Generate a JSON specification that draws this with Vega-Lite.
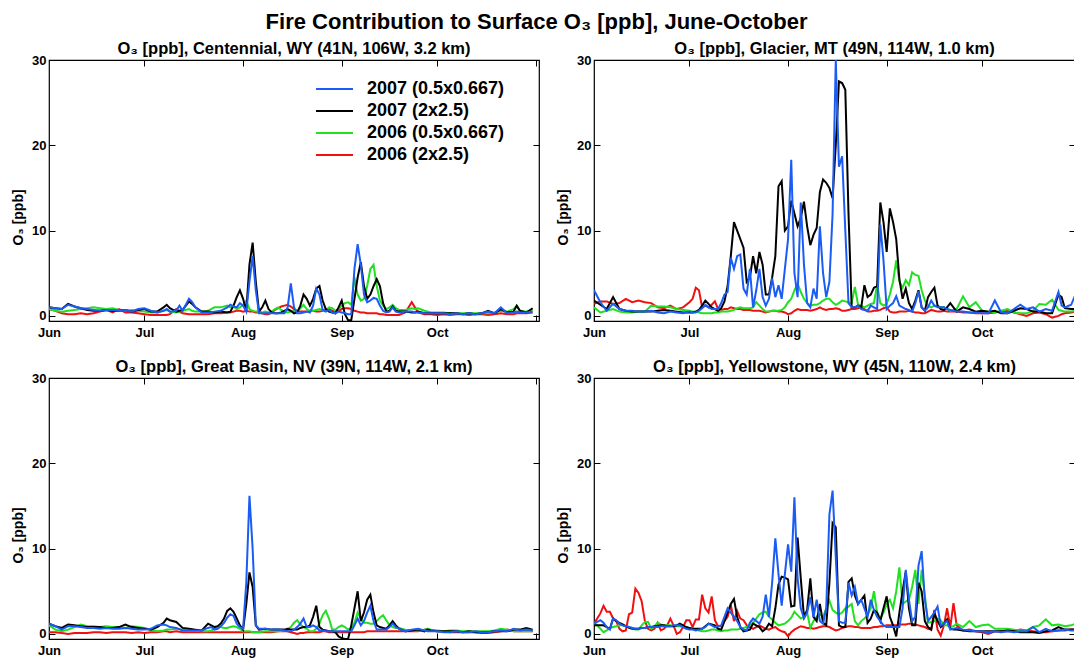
{
  "$schema": "https://vega.github.io/schema/vega-lite/v6.json",
  "background": "white",
  "padding": {"left": 10, "top": 10, "right": 0, "bottom": 0},
  "title": {"text": "Fire Contribution to Surface O₃ [ppb], June-October", "fontSize": 22, "fontWeight": "bold", "font": "Liberation Sans", "color": "black", "anchor": "middle", "offset": 6, "dx": -8},
  "config": {
    "font": "Liberation Sans",
    "view": {"stroke": "black", "strokeWidth": 1.2},
    "axis": {"grid": false, "domain": false, "tickColor": "black", "tickSize": -6, "tickWidth": 1, "labelFontSize": 13, "labelFontWeight": "bold", "labelColor": "black", "titleFontSize": 14, "titleFontWeight": "bold", "titleColor": "black", "labelFlush": false},
    "line": {"strokeWidth": 2, "clip": true}
  },
  "columns": 2,
  "spacing": {"row": 17, "column": 14},
  "resolve": {"legend": {"color": "independent"}},
  "datasets": {
    "cen": [
      {"d":0,"b":1.0,"k":1.0,"g":0.8,"r":0.8},{"d":2,"b":0.9,"k":0.9,"g":0.6,"r":0.6},{"d":4,"b":0.8,"k":0.8,"g":0.5,"r":0.3},{"d":6,"b":1.3,"k":1.4,"g":0.6,"r":0.2},{"d":8,"b":1.1,"k":1.1,"g":0.7,"r":0.2},{"d":10,"b":0.9,"k":0.9,"g":0.8,"r":0.3},{"d":12,"b":0.8,"k":0.7,"g":0.9,"r":0.2},{"d":14,"b":0.7,"k":0.6,"g":1.0,"r":0.3},{"d":16,"b":0.6,"k":0.6,"g":0.9,"r":0.5},{"d":18,"b":0.7,"k":0.7,"g":0.8,"r":0.7},{"d":20,"b":0.7,"k":0.6,"g":0.9,"r":0.4},{"d":22,"b":0.6,"k":0.6,"g":0.7,"r":0.8},{"d":24,"b":0.7,"k":0.7,"g":0.6,"r":0.4},{"d":26,"b":0.5,"k":0.5,"g":0.7,"r":0.4},{"d":28,"b":0.8,"k":0.7,"g":0.6,"r":0.3},{"d":30,"b":0.9,"k":0.8,"g":0.5,"r":0.2},{"d":32,"b":0.6,"k":0.5,"g":0.4,"r":0.1},{"d":34,"b":0.4,"k":0.5,"g":0.4,"r":0.1},{"d":36,"b":0.6,"k":1.0,"g":0.6,"r":0.1},{"d":37,"b":0.8,"k":1.3,"g":0.7,"r":0.1},{"d":38,"b":0.5,"k":0.9,"g":0.5,"r":0.2},{"d":40,"b":0.6,"k":0.5,"g":0.4,"r":0.8},{"d":41,"b":1.2,"k":0.6,"g":0.5,"r":0.5},{"d":42,"b":0.6,"k":0.7,"g":0.6,"r":0.3},{"d":44,"b":2.0,"k":1.7,"g":0.8,"r":0.2},{"d":45,"b":1.6,"k":1.4,"g":0.6,"r":0.2},{"d":46,"b":1.0,"k":1.0,"g":0.5,"r":0.2},{"d":48,"b":0.4,"k":0.5,"g":0.5,"r":0.2},{"d":50,"b":0.4,"k":0.5,"g":0.6,"r":0.2},{"d":52,"b":0.5,"k":0.4,"g":1.0,"r":0.3},{"d":54,"b":0.6,"k":0.5,"g":1.0,"r":0.3},{"d":56,"b":1.0,"k":0.4,"g":1.2,"r":0.4},{"d":57,"b":1.3,"k":0.5,"g":1.0,"r":0.4},{"d":58,"b":1.1,"k":1.2,"g":1.1,"r":0.5},{"d":59,"b":1.0,"k":2.2,"g":0.8,"r":0.6},{"d":60,"b":1.5,"k":3.0,"g":1.0,"r":0.6},{"d":61,"b":1.2,"k":2.0,"g":1.3,"r":0.5},{"d":62,"b":0.5,"k":0.6,"g":1.8,"r":0.6},{"d":63,"b":4.0,"k":6.0,"g":0.8,"r":0.5},{"d":64,"b":7.0,"k":8.6,"g":0.6,"r":0.5},{"d":65,"b":3.0,"k":4.0,"g":0.5,"r":0.4},{"d":66,"b":0.3,"k":0.5,"g":0.5,"r":0.4},{"d":67,"b":0.3,"k":1.0,"g":0.4,"r":0.3},{"d":68,"b":0.3,"k":1.8,"g":0.5,"r":0.2},{"d":69,"b":0.3,"k":0.8,"g":0.4,"r":0.2},{"d":70,"b":0.3,"k":0.4,"g":0.5,"r":0.4},{"d":71,"b":0.3,"k":0.3,"g":0.8,"r":0.7},{"d":72,"b":0.3,"k":0.3,"g":1.0,"r":0.9},{"d":73,"b":0.3,"k":0.4,"g":0.7,"r":1.1},{"d":74,"b":0.3,"k":0.6,"g":0.5,"r":1.2},{"d":75,"b":1.0,"k":0.8,"g":0.4,"r":1.3},{"d":76,"b":3.8,"k":0.6,"g":0.5,"r":1.1},{"d":77,"b":1.0,"k":0.3,"g":0.6,"r":0.8},{"d":78,"b":0.3,"k":0.4,"g":0.5,"r":0.6},{"d":79,"b":0.3,"k":1.2,"g":0.9,"r":0.5},{"d":80,"b":0.4,"k":2.5,"g":1.3,"r":0.5},{"d":81,"b":0.5,"k":2.0,"g":0.8,"r":0.5},{"d":82,"b":0.4,"k":1.2,"g":0.6,"r":0.6},{"d":83,"b":1.2,"k":2.0,"g":0.6,"r":0.6},{"d":84,"b":3.2,"k":3.2,"g":0.7,"r":0.5},{"d":85,"b":2.5,"k":3.5,"g":0.8,"r":0.5},{"d":86,"b":0.7,"k":1.8,"g":0.7,"r":0.6},{"d":87,"b":0.5,"k":0.8,"g":0.6,"r":0.8},{"d":88,"b":0.7,"k":0.5,"g":1.0,"r":0.8},{"d":89,"b":0.4,"k":0.4,"g":0.9,"r":0.6},{"d":90,"b":0.3,"k":0.3,"g":0.6,"r":0.5},{"d":91,"b":0.5,"k":1.0,"g":0.8,"r":0.6},{"d":92,"b":0.4,"k":1.8,"g":1.2,"r":0.8},{"d":93,"b":0.3,"k":0.2,"g":1.5,"r":0.9},{"d":94,"b":0.2,"k":-0.5,"g":1.6,"r":0.9},{"d":95,"b":0.2,"k":-0.5,"g":1.3,"r":0.8},{"d":96,"b":5.5,"k":2.0,"g":4.5,"r":0.6},{"d":97,"b":8.4,"k":4.5,"g":2.5,"r":0.5},{"d":98,"b":6.0,"k":6.3,"g":1.8,"r":0.4},{"d":99,"b":2.5,"k":3.5,"g":2.0,"r":0.4},{"d":100,"b":1.6,"k":2.0,"g":3.5,"r":0.3},{"d":101,"b":1.8,"k":2.5,"g":5.5,"r":0.3},{"d":102,"b":2.1,"k":3.5,"g":6.0,"r":0.3},{"d":103,"b":2.0,"k":4.3,"g":3.5,"r":0.3},{"d":104,"b":1.2,"k":3.5,"g":1.8,"r":0.2},{"d":105,"b":0.6,"k":1.5,"g":1.2,"r":0.2},{"d":106,"b":0.4,"k":0.5,"g":0.8,"r":0.1},{"d":107,"b":0.5,"k":0.6,"g":1.0,"r":0.1},{"d":108,"b":1.0,"k":1.1,"g":1.3,"r":0.1},{"d":109,"b":0.5,"k":0.6,"g":0.9,"r":0.1},{"d":110,"b":0.4,"k":0.5,"g":0.7,"r":0.1},{"d":112,"b":0.5,"k":0.5,"g":0.7,"r":0.4},{"d":114,"b":0.5,"k":0.4,"g":0.9,"r":1.6},{"d":115,"b":0.4,"k":0.4,"g":0.8,"r":1.0},{"d":116,"b":0.4,"k":0.5,"g":0.9,"r":0.4},{"d":118,"b":0.3,"k":0.3,"g":0.6,"r":0.2},{"d":120,"b":0.3,"k":0.3,"g":0.4,"r":0.2},{"d":122,"b":0.3,"k":0.3,"g":0.4,"r":0.1},{"d":124,"b":0.3,"k":0.3,"g":0.4,"r":0.2},{"d":126,"b":0.2,"k":0.3,"g":0.3,"r":0.1},{"d":128,"b":0.3,"k":0.3,"g":0.3,"r":0.2},{"d":130,"b":0.2,"k":0.2,"g":0.3,"r":0.2},{"d":132,"b":0.3,"k":0.3,"g":0.3,"r":0.1},{"d":134,"b":0.2,"k":0.2,"g":0.3,"r":0.2},{"d":136,"b":0.3,"k":0.3,"g":0.3,"r":0.2},{"d":138,"b":0.5,"k":0.6,"g":0.3,"r":0.1},{"d":140,"b":0.3,"k":0.3,"g":0.4,"r":0.2},{"d":142,"b":1.0,"k":0.8,"g":0.6,"r":0.3},{"d":144,"b":0.3,"k":0.4,"g":0.5,"r":0.2},{"d":146,"b":0.4,"k":0.5,"g":0.8,"r":0.2},{"d":147,"b":0.5,"k":1.2,"g":1.2,"r":0.3},{"d":148,"b":0.4,"k":0.6,"g":0.6,"r":0.3},{"d":150,"b":0.4,"k":0.4,"g":0.5,"r":0.3},{"d":152,"b":0.5,"k":0.9,"g":0.7,"r":0.4}
    ],
    "gla": [
      {"d":0,"b":3.0,"k":1.8,"g":1.0,"r":1.4},{"d":2,"b":1.6,"k":1.3,"g":0.4,"r":1.7},{"d":4,"b":0.6,"k":0.8,"g":0.6,"r":1.7},{"d":6,"b":1.4,"k":2.2,"g":0.8,"r":1.4},{"d":8,"b":0.8,"k":0.8,"g":0.5,"r":1.5},{"d":10,"b":0.6,"k":0.6,"g":0.4,"r":2.0},{"d":12,"b":0.6,"k":0.5,"g":0.4,"r":1.6},{"d":14,"b":0.5,"k":0.5,"g":0.5,"r":1.8},{"d":16,"b":0.5,"k":0.5,"g":0.5,"r":1.6},{"d":18,"b":0.6,"k":0.5,"g":1.2,"r":1.5},{"d":20,"b":0.4,"k":0.6,"g":1.1,"r":1.0},{"d":22,"b":0.3,"k":0.7,"g":1.1,"r":0.9},{"d":24,"b":0.5,"k":0.6,"g":1.0,"r":1.2},{"d":26,"b":0.4,"k":0.5,"g":0.8,"r":0.8},{"d":28,"b":0.3,"k":0.4,"g":0.7,"r":1.0},{"d":30,"b":0.5,"k":0.4,"g":0.6,"r":1.6},{"d":31,"b":0.4,"k":0.4,"g":0.5,"r":2.0},{"d":32,"b":0.4,"k":0.5,"g":0.5,"r":3.3},{"d":33,"b":0.6,"k":0.7,"g":0.4,"r":3.0},{"d":34,"b":0.9,"k":1.2,"g":0.3,"r":1.0},{"d":35,"b":1.3,"k":1.8,"g":0.3,"r":1.2},{"d":36,"b":1.0,"k":1.4,"g":0.3,"r":1.0},{"d":37,"b":0.8,"k":1.0,"g":0.3,"r":1.3},{"d":38,"b":0.8,"k":0.8,"g":0.4,"r":1.7},{"d":39,"b":0.8,"k":0.6,"g":0.4,"r":0.8},{"d":40,"b":1.5,"k":0.9,"g":0.5,"r":0.7},{"d":41,"b":2.5,"k":1.7,"g":0.5,"r":0.8},{"d":42,"b":2.8,"k":3.5,"g":0.5,"r":0.8},{"d":43,"b":6.8,"k":7.0,"g":0.6,"r":1.0},{"d":44,"b":5.5,"k":11.0,"g":0.7,"r":0.9},{"d":45,"b":7.0,"k":10.0,"g":0.9,"r":0.8},{"d":46,"b":7.2,"k":9.0,"g":1.0,"r":0.8},{"d":47,"b":3.2,"k":8.0,"g":0.9,"r":0.7},{"d":48,"b":2.5,"k":4.0,"g":0.9,"r":0.7},{"d":49,"b":5.5,"k":4.5,"g":0.9,"r":0.7},{"d":50,"b":1.0,"k":7.0,"g":1.0,"r":0.6},{"d":51,"b":3.0,"k":5.0,"g":1.6,"r":0.6},{"d":52,"b":5.5,"k":7.5,"g":1.2,"r":0.6},{"d":53,"b":2.2,"k":6.0,"g":0.8,"r":0.5},{"d":54,"b":1.2,"k":2.5,"g":0.5,"r":0.4},{"d":55,"b":2.0,"k":2.5,"g":0.5,"r":0.5},{"d":56,"b":4.4,"k":4.5,"g":0.6,"r":0.6},{"d":57,"b":2.2,"k":7.0,"g":0.6,"r":0.6},{"d":58,"b":3.6,"k":15.2,"g":0.6,"r":0.5},{"d":59,"b":2.0,"k":15.8,"g":0.7,"r":0.5},{"d":60,"b":5.5,"k":10.0,"g":1.0,"r":0.4},{"d":61,"b":9.0,"k":10.5,"g":1.6,"r":0.2},{"d":62,"b":18.3,"k":13.5,"g":2.0,"r":0.3},{"d":63,"b":5.0,"k":12.0,"g":3.0,"r":0.6},{"d":64,"b":2.2,"k":10.5,"g":3.8,"r":0.8},{"d":65,"b":13.3,"k":11.5,"g":2.8,"r":0.7},{"d":66,"b":6.0,"k":13.4,"g":2.0,"r":0.7},{"d":67,"b":1.5,"k":10.5,"g":1.5,"r":0.7},{"d":68,"b":1.0,"k":8.3,"g":1.2,"r":0.6},{"d":69,"b":3.2,"k":9.5,"g":1.3,"r":0.7},{"d":70,"b":2.0,"k":10.3,"g":1.3,"r":0.8},{"d":71,"b":10.5,"k":14.5,"g":1.5,"r":1.0},{"d":72,"b":5.0,"k":16.0,"g":1.8,"r":0.8},{"d":73,"b":2.2,"k":15.6,"g":2.0,"r":0.7},{"d":74,"b":4.0,"k":15.0,"g":2.0,"r":0.8},{"d":75,"b":12.0,"k":13.8,"g":1.6,"r":0.8},{"d":76,"b":30.0,"k":20.0,"g":1.3,"r":0.9},{"d":77,"b":17.5,"k":27.5,"g":1.5,"r":0.8},{"d":78,"b":18.7,"k":27.3,"g":1.8,"r":0.6},{"d":79,"b":10.0,"k":26.5,"g":1.7,"r":0.6},{"d":80,"b":1.5,"k":12.0,"g":1.6,"r":0.7},{"d":81,"b":1.0,"k":1.0,"g":1.5,"r":0.8},{"d":82,"b":1.0,"k":1.0,"g":3.4,"r":0.8},{"d":83,"b":1.2,"k":1.2,"g":1.3,"r":0.9},{"d":84,"b":0.8,"k":1.0,"g":1.2,"r":1.0},{"d":85,"b":0.7,"k":3.6,"g":1.0,"r":0.8},{"d":86,"b":0.6,"k":2.2,"g":1.2,"r":0.5},{"d":87,"b":1.2,"k":2.5,"g":1.4,"r":0.5},{"d":88,"b":1.0,"k":3.3,"g":1.5,"r":0.6},{"d":89,"b":0.8,"k":3.5,"g":3.7,"r":0.6},{"d":90,"b":10.7,"k":13.3,"g":1.5,"r":0.7},{"d":91,"b":6.5,"k":11.0,"g":1.2,"r":0.9},{"d":92,"b":0.8,"k":7.5,"g":1.4,"r":1.0},{"d":93,"b":1.2,"k":12.6,"g":2.5,"r":0.5},{"d":94,"b":1.5,"k":11.0,"g":4.0,"r":0.4},{"d":95,"b":2.3,"k":9.0,"g":6.5,"r":0.4},{"d":96,"b":1.2,"k":4.3,"g":4.0,"r":0.5},{"d":97,"b":1.0,"k":2.0,"g":3.3,"r":0.5},{"d":98,"b":0.8,"k":3.2,"g":4.2,"r":0.5},{"d":99,"b":0.7,"k":1.5,"g":3.6,"r":0.6},{"d":100,"b":0.5,"k":0.8,"g":5.1,"r":0.5},{"d":101,"b":1.5,"k":1.8,"g":4.8,"r":0.4},{"d":102,"b":2.9,"k":3.0,"g":4.7,"r":0.4},{"d":103,"b":1.0,"k":1.0,"g":3.0,"r":0.3},{"d":104,"b":0.6,"k":0.6,"g":1.8,"r":0.3},{"d":105,"b":1.0,"k":2.2,"g":1.2,"r":0.5},{"d":106,"b":1.8,"k":2.8,"g":1.0,"r":0.7},{"d":107,"b":1.2,"k":3.3,"g":1.2,"r":0.6},{"d":108,"b":1.0,"k":1.2,"g":1.2,"r":0.5},{"d":109,"b":1.0,"k":0.8,"g":1.0,"r":0.5},{"d":110,"b":1.0,"k":0.7,"g":1.0,"r":0.6},{"d":111,"b":0.8,"k":1.0,"g":0.8,"r":0.5},{"d":112,"b":0.7,"k":1.5,"g":0.6,"r":0.5},{"d":114,"b":0.5,"k":0.5,"g":0.8,"r":0.5},{"d":116,"b":0.5,"k":1.0,"g":2.3,"r":0.4},{"d":118,"b":0.4,"k":0.8,"g":1.0,"r":0.4},{"d":120,"b":0.4,"k":0.5,"g":1.6,"r":0.3},{"d":122,"b":0.3,"k":0.6,"g":0.6,"r":0.3},{"d":124,"b":0.3,"k":0.5,"g":0.5,"r":0.3},{"d":126,"b":1.8,"k":0.6,"g":0.4,"r":0.4},{"d":128,"b":0.4,"k":0.3,"g":0.6,"r":0.5},{"d":130,"b":0.3,"k":0.3,"g":0.8,"r":0.6},{"d":132,"b":0.8,"k":0.6,"g":0.4,"r":0.4},{"d":134,"b":1.3,"k":0.9,"g":0.3,"r":0.2},{"d":136,"b":0.8,"k":0.8,"g":0.3,"r":0.0},{"d":138,"b":1.0,"k":0.5,"g":0.6,"r":0.3},{"d":140,"b":0.5,"k":0.5,"g":1.4,"r":0.4},{"d":142,"b":0.8,"k":0.3,"g":1.3,"r":0.2},{"d":144,"b":0.6,"k":0.3,"g":1.9,"r":-0.2},{"d":146,"b":2.8,"k":2.5,"g":0.7,"r":0.0},{"d":147,"b":1.2,"k":2.2,"g":0.6,"r":0.2},{"d":148,"b":1.0,"k":0.9,"g":0.5,"r":0.3},{"d":150,"b":1.3,"k":0.8,"g":0.5,"r":0.4},{"d":151,"b":2.2,"k":0.8,"g":0.6,"r":0.5},{"d":152,"b":2.0,"k":1.0,"g":0.6,"r":0.5}
    ],
    "gb": [
      {"d":0,"b":1.2,"k":1.2,"g":1.0,"r":0.2},{"d":2,"b":0.9,"k":0.9,"g":0.5,"r":0.2},{"d":4,"b":0.5,"k":0.7,"g":0.3,"r":0.1},{"d":6,"b":0.9,"k":1.1,"g":0.5,"r":0.0},{"d":8,"b":0.9,"k":1.0,"g":0.8,"r":0.1},{"d":10,"b":0.8,"k":0.9,"g":1.1,"r":0.1},{"d":12,"b":0.7,"k":0.8,"g":0.9,"r":0.1},{"d":14,"b":0.7,"k":0.8,"g":0.9,"r":0.2},{"d":16,"b":0.6,"k":0.8,"g":0.8,"r":0.2},{"d":18,"b":0.7,"k":0.7,"g":0.9,"r":0.1},{"d":20,"b":0.6,"k":0.7,"g":0.8,"r":0.2},{"d":22,"b":0.6,"k":0.8,"g":0.8,"r":0.2},{"d":24,"b":0.7,"k":1.1,"g":0.7,"r":0.2},{"d":26,"b":0.6,"k":0.8,"g":0.9,"r":0.1},{"d":28,"b":0.5,"k":0.7,"g":0.8,"r":0.2},{"d":30,"b":0.5,"k":0.6,"g":0.7,"r":0.1},{"d":32,"b":0.6,"k":0.5,"g":0.5,"r":0.2},{"d":34,"b":1.0,"k":0.8,"g":0.3,"r":0.2},{"d":36,"b":1.1,"k":1.3,"g":0.4,"r":0.3},{"d":37,"b":1.0,"k":1.8,"g":0.5,"r":0.3},{"d":38,"b":0.8,"k":1.6,"g":0.5,"r":0.2},{"d":40,"b":0.7,"k":1.4,"g":0.6,"r":0.3},{"d":42,"b":0.4,"k":0.7,"g":0.5,"r":0.2},{"d":44,"b":0.4,"k":0.6,"g":0.4,"r":0.2},{"d":46,"b":0.4,"k":0.5,"g":0.4,"r":0.2},{"d":48,"b":0.4,"k":0.4,"g":0.3,"r":0.2},{"d":50,"b":0.7,"k":1.2,"g":0.3,"r":0.2},{"d":51,"b":0.8,"k":1.0,"g":0.4,"r":0.2},{"d":52,"b":0.5,"k":0.8,"g":0.6,"r":0.2},{"d":53,"b":0.6,"k":0.9,"g":0.8,"r":0.2},{"d":54,"b":0.9,"k":1.2,"g":0.8,"r":0.2},{"d":55,"b":1.3,"k":1.8,"g":0.7,"r":0.2},{"d":56,"b":1.9,"k":2.7,"g":0.7,"r":0.2},{"d":57,"b":2.3,"k":3.0,"g":0.8,"r":0.2},{"d":58,"b":2.1,"k":2.6,"g":0.9,"r":0.2},{"d":59,"b":1.2,"k":1.8,"g":0.8,"r":0.2},{"d":60,"b":0.8,"k":1.0,"g":0.6,"r":0.2},{"d":61,"b":0.6,"k":0.5,"g":0.3,"r":0.2},{"d":62,"b":6.0,"k":3.5,"g":0.3,"r":0.2},{"d":63,"b":16.2,"k":7.2,"g":0.3,"r":0.2},{"d":64,"b":10.0,"k":5.5,"g":0.2,"r":0.2},{"d":65,"b":1.0,"k":1.0,"g":0.2,"r":0.2},{"d":66,"b":0.6,"k":0.5,"g":0.2,"r":0.2},{"d":68,"b":0.6,"k":0.6,"g":0.3,"r":0.2},{"d":70,"b":0.5,"k":0.5,"g":0.3,"r":0.2},{"d":72,"b":0.5,"k":0.5,"g":0.3,"r":0.3},{"d":74,"b":0.4,"k":0.5,"g":0.4,"r":0.3},{"d":75,"b":0.3,"k":0.6,"g":0.6,"r":0.3},{"d":76,"b":0.3,"k":0.5,"g":0.8,"r":0.2},{"d":77,"b":0.5,"k":0.5,"g":1.3,"r":0.1},{"d":78,"b":0.8,"k":0.5,"g":1.6,"r":0.0},{"d":79,"b":1.2,"k":0.7,"g":1.1,"r":0.1},{"d":80,"b":1.8,"k":0.8,"g":0.8,"r":0.1},{"d":81,"b":0.8,"k":0.8,"g":0.6,"r":0.2},{"d":82,"b":0.8,"k":1.0,"g":0.3,"r":0.2},{"d":83,"b":1.0,"k":2.0,"g":0.3,"r":0.2},{"d":84,"b":0.8,"k":3.3,"g":0.6,"r":0.2},{"d":85,"b":0.4,"k":0.8,"g":1.2,"r":0.2},{"d":86,"b":0.4,"k":0.5,"g":2.2,"r":0.3},{"d":87,"b":0.3,"k":0.4,"g":2.7,"r":0.3},{"d":88,"b":0.3,"k":0.3,"g":1.8,"r":0.2},{"d":89,"b":0.3,"k":0.3,"g":0.5,"r":0.2},{"d":90,"b":0.3,"k":0.2,"g":0.5,"r":0.2},{"d":91,"b":0.3,"k":-0.3,"g":0.8,"r":0.2},{"d":92,"b":0.3,"k":-0.5,"g":1.0,"r":0.2},{"d":93,"b":0.3,"k":-0.6,"g":0.8,"r":0.2},{"d":94,"b":0.3,"k":-0.6,"g":0.5,"r":0.2},{"d":95,"b":0.3,"k":1.0,"g":0.7,"r":0.2},{"d":96,"b":1.0,"k":3.0,"g":1.3,"r":0.2},{"d":97,"b":1.8,"k":5.0,"g":2.5,"r":0.2},{"d":98,"b":1.0,"k":1.5,"g":1.8,"r":0.2},{"d":99,"b":1.5,"k":2.5,"g":1.3,"r":0.2},{"d":100,"b":2.5,"k":4.0,"g":1.3,"r":0.3},{"d":101,"b":3.3,"k":4.6,"g":1.2,"r":0.3},{"d":102,"b":1.5,"k":2.5,"g":1.2,"r":0.3},{"d":103,"b":0.5,"k":1.0,"g":1.5,"r":0.3},{"d":104,"b":0.5,"k":0.8,"g":1.9,"r":0.3},{"d":105,"b":0.5,"k":0.7,"g":2.2,"r":0.3},{"d":106,"b":0.5,"k":0.6,"g":1.6,"r":0.3},{"d":107,"b":0.8,"k":1.0,"g":1.0,"r":0.3},{"d":108,"b":1.2,"k":1.5,"g":0.8,"r":0.3},{"d":109,"b":0.8,"k":1.0,"g":0.7,"r":0.3},{"d":110,"b":0.6,"k":0.6,"g":0.7,"r":0.3},{"d":112,"b":0.3,"k":0.3,"g":0.5,"r":0.3},{"d":114,"b":0.5,"k":0.4,"g":0.4,"r":0.3},{"d":116,"b":0.6,"k":0.5,"g":0.4,"r":0.3},{"d":118,"b":0.4,"k":0.3,"g":0.5,"r":0.5},{"d":119,"b":0.3,"k":0.5,"g":0.6,"r":0.6},{"d":120,"b":0.3,"k":0.4,"g":0.5,"r":0.4},{"d":122,"b":0.3,"k":0.3,"g":0.4,"r":0.3},{"d":124,"b":0.2,"k":0.3,"g":0.3,"r":0.3},{"d":126,"b":0.2,"k":0.3,"g":0.4,"r":0.2},{"d":128,"b":0.3,"k":0.3,"g":0.4,"r":0.2},{"d":130,"b":0.2,"k":0.2,"g":0.3,"r":0.2},{"d":132,"b":0.2,"k":0.3,"g":0.3,"r":0.2},{"d":134,"b":0.3,"k":0.2,"g":0.3,"r":0.2},{"d":136,"b":0.2,"k":0.2,"g":0.3,"r":0.1},{"d":138,"b":0.2,"k":0.2,"g":0.3,"r":0.1},{"d":140,"b":0.3,"k":0.3,"g":0.4,"r":0.2},{"d":142,"b":0.4,"k":0.3,"g":0.6,"r":0.3},{"d":144,"b":0.3,"k":0.3,"g":0.5,"r":0.5},{"d":146,"b":0.6,"k":0.5,"g":0.3,"r":0.3},{"d":148,"b":0.4,"k":0.5,"g":0.3,"r":0.3},{"d":150,"b":0.5,"k":0.7,"g":0.3,"r":0.3},{"d":152,"b":0.4,"k":0.5,"g":0.3,"r":0.3}
    ],
    "yel": [
      {"d":0,"b":1.2,"k":1.0,"g":1.2,"r":1.2},{"d":1,"b":1.4,"k":1.0,"g":1.0,"r":1.8},{"d":2,"b":1.6,"k":1.0,"g":0.6,"r":2.4},{"d":3,"b":1.3,"k":1.0,"g":0.2,"r":3.3},{"d":4,"b":0.8,"k":0.8,"g":0.4,"r":2.6},{"d":5,"b":0.5,"k":0.6,"g":0.7,"r":2.6},{"d":6,"b":1.8,"k":1.8,"g":0.8,"r":1.8},{"d":7,"b":1.6,"k":1.5,"g":0.9,"r":1.5},{"d":8,"b":1.2,"k":1.3,"g":1.0,"r":0.6},{"d":9,"b":1.0,"k":1.1,"g":1.0,"r":0.3},{"d":10,"b":0.9,"k":0.9,"g":0.9,"r":0.4},{"d":11,"b":0.8,"k":0.7,"g":0.8,"r":2.3},{"d":12,"b":0.7,"k":0.6,"g":0.7,"r":2.5},{"d":13,"b":0.6,"k":0.6,"g":0.5,"r":5.3},{"d":14,"b":0.6,"k":0.6,"g":0.5,"r":4.8},{"d":15,"b":0.7,"k":0.7,"g":1.0,"r":3.8},{"d":16,"b":0.7,"k":0.7,"g":1.4,"r":1.5},{"d":17,"b":0.8,"k":0.8,"g":1.4,"r":0.6},{"d":18,"b":0.8,"k":0.8,"g":0.6,"r":0.4},{"d":19,"b":0.8,"k":0.9,"g":0.9,"r":0.6},{"d":20,"b":0.8,"k":0.9,"g":1.3,"r":1.3},{"d":21,"b":0.9,"k":1.0,"g":1.1,"r":0.4},{"d":22,"b":0.9,"k":1.0,"g":1.0,"r":0.6},{"d":23,"b":0.9,"k":0.9,"g":1.0,"r":1.0},{"d":24,"b":0.9,"k":0.9,"g":1.0,"r":1.8},{"d":25,"b":1.0,"k":0.9,"g":0.9,"r":1.0},{"d":26,"b":1.0,"k":1.0,"g":0.9,"r":0.0},{"d":27,"b":1.0,"k":1.2,"g":0.9,"r":0.2},{"d":28,"b":0.8,"k":1.0,"g":0.8,"r":0.8},{"d":29,"b":0.6,"k":0.8,"g":0.7,"r":1.6},{"d":30,"b":0.5,"k":0.7,"g":0.6,"r":1.6},{"d":31,"b":0.5,"k":0.6,"g":0.6,"r":0.8},{"d":32,"b":0.4,"k":0.6,"g":0.5,"r":1.7},{"d":33,"b":0.5,"k":0.6,"g":0.4,"r":1.7},{"d":34,"b":0.6,"k":0.6,"g":0.3,"r":4.6},{"d":35,"b":0.8,"k":0.9,"g":0.3,"r":3.0},{"d":36,"b":1.2,"k":1.2,"g":0.4,"r":2.5},{"d":37,"b":1.0,"k":1.1,"g":0.5,"r":4.4},{"d":38,"b":0.8,"k":1.0,"g":0.5,"r":1.6},{"d":39,"b":0.9,"k":0.6,"g":0.4,"r":0.9},{"d":40,"b":1.0,"k":0.5,"g":0.3,"r":0.9},{"d":41,"b":2.0,"k":1.5,"g":0.4,"r":1.5},{"d":42,"b":3.0,"k":2.5,"g":0.4,"r":2.0},{"d":43,"b":2.5,"k":3.5,"g":0.5,"r":3.4},{"d":44,"b":2.0,"k":4.1,"g":0.5,"r":1.5},{"d":45,"b":1.5,"k":2.0,"g":0.5,"r":2.7},{"d":46,"b":0.8,"k":0.8,"g":0.6,"r":1.8},{"d":47,"b":0.5,"k":0.3,"g":0.7,"r":1.6},{"d":48,"b":0.4,"k":0.4,"g":0.8,"r":1.0},{"d":49,"b":1.3,"k":0.5,"g":1.0,"r":0.8},{"d":50,"b":1.8,"k":1.2,"g":1.3,"r":0.6},{"d":51,"b":1.5,"k":1.0,"g":1.8,"r":0.8},{"d":52,"b":1.2,"k":0.8,"g":2.3,"r":1.0},{"d":53,"b":2.0,"k":0.3,"g":2.5,"r":0.8},{"d":54,"b":4.6,"k":0.6,"g":2.6,"r":0.6},{"d":55,"b":2.0,"k":1.2,"g":2.0,"r":0.5},{"d":56,"b":6.0,"k":0.9,"g":1.7,"r":0.7},{"d":57,"b":11.2,"k":3.0,"g":1.3,"r":0.8},{"d":58,"b":7.0,"k":5.8,"g":1.0,"r":0.5},{"d":59,"b":3.3,"k":6.7,"g":1.1,"r":0.3},{"d":60,"b":7.0,"k":6.6,"g":1.2,"r":0.2},{"d":61,"b":10.5,"k":6.4,"g":1.5,"r":-0.3},{"d":62,"b":7.3,"k":3.2,"g":1.9,"r":0.2},{"d":63,"b":16.0,"k":3.3,"g":2.6,"r":0.5},{"d":64,"b":6.5,"k":11.3,"g":2.2,"r":0.7},{"d":65,"b":3.0,"k":6.5,"g":1.8,"r":0.9},{"d":66,"b":1.8,"k":2.0,"g":2.0,"r":0.8},{"d":67,"b":2.5,"k":2.8,"g":2.5,"r":0.7},{"d":68,"b":4.3,"k":6.5,"g":0.7,"r":0.7},{"d":69,"b":2.0,"k":2.0,"g":1.5,"r":0.6},{"d":70,"b":4.0,"k":1.5,"g":2.0,"r":0.7},{"d":71,"b":1.5,"k":3.5,"g":2.3,"r":0.8},{"d":72,"b":1.2,"k":1.3,"g":2.0,"r":0.9},{"d":73,"b":3.0,"k":1.0,"g":3.0,"r":0.9},{"d":74,"b":14.0,"k":6.0,"g":3.9,"r":0.8},{"d":75,"b":16.8,"k":13.0,"g":2.8,"r":0.6},{"d":76,"b":9.0,"k":12.5,"g":2.5,"r":0.4},{"d":77,"b":1.5,"k":1.0,"g":2.3,"r":0.5},{"d":78,"b":1.3,"k":0.8,"g":2.5,"r":0.7},{"d":79,"b":1.3,"k":0.8,"g":3.0,"r":0.8},{"d":80,"b":6.0,"k":6.1,"g":3.2,"r":0.9},{"d":81,"b":4.5,"k":6.5,"g":3.5,"r":0.9},{"d":82,"b":5.5,"k":4.5,"g":1.5,"r":0.8},{"d":83,"b":3.5,"k":3.5,"g":1.0,"r":0.8},{"d":84,"b":4.0,"k":4.0,"g":1.5,"r":0.7},{"d":85,"b":3.0,"k":4.5,"g":1.8,"r":0.7},{"d":86,"b":2.0,"k":1.3,"g":2.2,"r":0.7},{"d":87,"b":4.0,"k":1.8,"g":3.0,"r":0.7},{"d":88,"b":2.8,"k":2.8,"g":5.0,"r":0.8},{"d":89,"b":2.0,"k":2.5,"g":2.5,"r":0.8},{"d":90,"b":1.5,"k":1.5,"g":1.8,"r":0.9},{"d":91,"b":1.0,"k":3.0,"g":2.5,"r":0.9},{"d":92,"b":0.8,"k":4.4,"g":3.5,"r":1.0},{"d":93,"b":0.8,"k":2.0,"g":4.0,"r":1.0},{"d":94,"b":0.8,"k":1.0,"g":3.0,"r":1.0},{"d":95,"b":0.8,"k":-0.3,"g":5.0,"r":1.0},{"d":96,"b":0.8,"k":2.5,"g":7.8,"r":1.1},{"d":97,"b":3.0,"k":5.0,"g":3.5,"r":1.1},{"d":98,"b":7.5,"k":7.3,"g":3.8,"r":1.1},{"d":99,"b":4.0,"k":3.0,"g":4.0,"r":1.2},{"d":100,"b":1.5,"k":1.0,"g":5.5,"r":1.2},{"d":101,"b":2.0,"k":1.0,"g":7.5,"r":1.1},{"d":102,"b":8.0,"k":6.0,"g":3.5,"r":1.0},{"d":103,"b":9.7,"k":5.0,"g":7.5,"r":0.9},{"d":104,"b":4.0,"k":1.5,"g":4.5,"r":0.8},{"d":105,"b":1.5,"k":0.8,"g":1.3,"r":0.6},{"d":106,"b":2.0,"k":0.5,"g":1.4,"r":0.5},{"d":107,"b":2.5,"k":2.4,"g":1.5,"r":2.8},{"d":108,"b":3.2,"k":1.5,"g":1.8,"r":0.5},{"d":109,"b":1.0,"k":0.8,"g":1.6,"r":-0.2},{"d":110,"b":1.2,"k":1.2,"g":1.0,"r":1.0},{"d":111,"b":1.5,"k":1.7,"g":1.0,"r":3.0},{"d":112,"b":0.5,"k":0.6,"g":0.8,"r":0.8},{"d":113,"b":0.6,"k":0.5,"g":0.9,"r":3.6},{"d":114,"b":0.7,"k":0.5,"g":1.2,"r":1.0},{"d":116,"b":0.5,"k":0.4,"g":0.8,"r":0.4},{"d":118,"b":0.4,"k":0.3,"g":1.5,"r":0.5},{"d":120,"b":0.3,"k":0.3,"g":0.8,"r":0.3},{"d":122,"b":0.3,"k":0.3,"g":1.0,"r":0.2},{"d":124,"b":0.2,"k":0.3,"g":1.1,"r":0.0},{"d":126,"b":0.3,"k":0.3,"g":0.6,"r":0.3},{"d":128,"b":0.2,"k":0.3,"g":0.6,"r":0.3},{"d":130,"b":0.3,"k":0.4,"g":0.6,"r":0.3},{"d":132,"b":0.2,"k":0.3,"g":0.5,"r":0.3},{"d":134,"b":0.3,"k":0.2,"g":0.4,"r":0.5},{"d":136,"b":0.3,"k":0.2,"g":0.4,"r":0.4},{"d":138,"b":0.8,"k":0.2,"g":0.8,"r":0.3},{"d":140,"b":0.2,"k":0.1,"g":1.0,"r":0.2},{"d":142,"b":0.6,"k":0.3,"g":1.7,"r":0.2},{"d":144,"b":0.3,"k":0.4,"g":1.0,"r":0.3},{"d":146,"b":0.4,"k":0.8,"g":1.1,"r":0.4},{"d":148,"b":0.5,"k":0.5,"g":0.9,"r":0.4},{"d":150,"b":0.4,"k":0.5,"g":1.0,"r":0.5},{"d":152,"b":0.4,"k":0.5,"g":1.3,"r":0.5}
    ]
  },
  "concat": [
    {
      "title": {"text": "O₃ [ppb], Centennial, WY (41N, 106W, 3.2 km)", "fontSize": 16.5, "fontWeight": "bold", "color": "black", "anchor": "middle", "offset": -3},
      "width": 490, "height": 261,
      "data": {"name": "cen"},
      "transform": [{"fold": ["r", "g", "k", "b"], "as": ["s", "v"]}],
      "layer": [
        {
          "mark": {"type": "line", "strokeWidth": 2, "clip": true},
          "encoding": {
            "x": {"field": "d", "type": "quantitative", "scale": {"domain": [0, 154], "nice": false, "zero": false}, "axis": {"orient": "bottom", "title": null, "values": [0, 30, 61, 92, 122, 153], "labelPadding": 11, "labelExpr": "datum.value == 0 ? 'Jun' : datum.value == 30 ? 'Jul' : datum.value == 61 ? 'Aug' : datum.value == 92 ? 'Sep' : datum.value == 122 ? 'Oct' : ''"}},
            "y": {"field": "v", "type": "quantitative", "scale": {"domain": [-0.6, 30], "nice": false, "zero": false}, "axis": {"orient": "left", "title": "O₃ [ppb]", "values": [0, 10, 20, 30], "labelPadding": 9, "titlePadding": 6, "titleY": 157}},
            "color": {"field": "s", "type": "nominal", "scale": {"domain": ["b", "k", "g", "r"], "range": ["#1a5cf5", "#000000", "#20e020", "#f01010"]},
              "legend": {"orient": "none", "legendX": 266, "legendY": 19, "title": null, "symbolType": "stroke", "symbolSize": 1369, "symbolStrokeWidth": 2, "labelFontSize": 18, "labelFontWeight": "bold", "labelOffset": 13, "clipHeight": 20, "rowPadding": 2, "padding": 0,
                "labelExpr": "datum.value == 'b' ? '2007 (0.5x0.667)' : datum.value == 'k' ? '2007 (2x2.5)' : datum.value == 'g' ? '2006 (0.5x0.667)' : '2006 (2x2.5)'",
                "encode": {"labels": {"update": {"fill": {"signal": "datum.value == 'b' ? '#1a5cf5' : datum.value == 'g' ? '#20e020' : datum.value == 'r' ? '#f01010' : '#000000'"}}}}}}
          }
        },
        {
          "mark": {"type": "line", "opacity": 0},
          "encoding": {
            "x": {"field": "d", "type": "quantitative", "axis": {"orient": "top", "title": null, "labels": false, "values": [30, 61, 92, 122, 153]}},
            "y": {"field": "v", "type": "quantitative", "axis": {"orient": "right", "title": null, "labels": false, "values": [0, 10, 20, 30]}}
          }
        }
      ],
      "resolve": {"axis": {"x": "independent", "y": "independent"}}
    },
    {
      "title": {"text": "O₃ [ppb], Glacier, MT (49N, 114W, 1.0 km)", "fontSize": 16.5, "fontWeight": "bold", "color": "black", "anchor": "middle", "offset": -3},
      "width": 481, "height": 261,
      "data": {"name": "gla"},
      "transform": [{"fold": ["r", "g", "k", "b"], "as": ["s", "v"]}],
      "layer": [
        {
          "mark": {"type": "line", "strokeWidth": 2, "clip": true},
          "encoding": {
            "x": {"field": "d", "type": "quantitative", "scale": {"domain": [0, 151.2], "nice": false, "zero": false}, "axis": {"orient": "bottom", "title": null, "values": [0, 30, 61, 92, 122], "labelPadding": 11, "labelExpr": "datum.value == 0 ? 'Jun' : datum.value == 30 ? 'Jul' : datum.value == 61 ? 'Aug' : datum.value == 92 ? 'Sep' : datum.value == 122 ? 'Oct' : ''"}},
            "y": {"field": "v", "type": "quantitative", "scale": {"domain": [-0.6, 30], "nice": false, "zero": false}, "axis": {"orient": "left", "title": "O₃ [ppb]", "values": [0, 10, 20, 30], "labelPadding": 9, "titlePadding": 6, "titleY": 157}},
            "color": {"field": "s", "type": "nominal", "scale": {"domain": ["b", "k", "g", "r"], "range": ["#1a5cf5", "#000000", "#20e020", "#f01010"]}, "legend": null}
          }
        },
        {
          "mark": {"type": "line", "opacity": 0},
          "encoding": {
            "x": {"field": "d", "type": "quantitative", "axis": {"orient": "top", "title": null, "labels": false, "values": [30, 61, 92, 122]}},
            "y": {"field": "v", "type": "quantitative", "axis": {"orient": "right", "title": null, "labels": false, "values": [0, 10, 20, 30]}}
          }
        }
      ],
      "resolve": {"axis": {"x": "independent", "y": "independent"}}
    },
    {
      "title": {"text": "O₃ [ppb], Great Basin, NV (39N, 114W, 2.1 km)", "fontSize": 16.5, "fontWeight": "bold", "color": "black", "anchor": "middle", "offset": -3},
      "width": 490, "height": 261,
      "data": {"name": "gb"},
      "transform": [{"fold": ["r", "g", "k", "b"], "as": ["s", "v"]}],
      "layer": [
        {
          "mark": {"type": "line", "strokeWidth": 2, "clip": true},
          "encoding": {
            "x": {"field": "d", "type": "quantitative", "scale": {"domain": [0, 154], "nice": false, "zero": false}, "axis": {"orient": "bottom", "title": null, "values": [0, 30, 61, 92, 122, 153], "labelPadding": 11, "labelExpr": "datum.value == 0 ? 'Jun' : datum.value == 30 ? 'Jul' : datum.value == 61 ? 'Aug' : datum.value == 92 ? 'Sep' : datum.value == 122 ? 'Oct' : ''"}},
            "y": {"field": "v", "type": "quantitative", "scale": {"domain": [-0.6, 30], "nice": false, "zero": false}, "axis": {"orient": "left", "title": "O₃ [ppb]", "values": [0, 10, 20, 30], "labelPadding": 9, "titlePadding": 6, "titleY": 157}},
            "color": {"field": "s", "type": "nominal", "scale": {"domain": ["b", "k", "g", "r"], "range": ["#1a5cf5", "#000000", "#20e020", "#f01010"]}, "legend": null}
          }
        },
        {
          "mark": {"type": "line", "opacity": 0},
          "encoding": {
            "x": {"field": "d", "type": "quantitative", "axis": {"orient": "top", "title": null, "labels": false, "values": [30, 61, 92, 122, 153]}},
            "y": {"field": "v", "type": "quantitative", "axis": {"orient": "right", "title": null, "labels": false, "values": [0, 10, 20, 30]}}
          }
        }
      ],
      "resolve": {"axis": {"x": "independent", "y": "independent"}}
    },
    {
      "title": {"text": "O₃ [ppb], Yellowstone, WY (45N, 110W, 2.4 km)", "fontSize": 16.5, "fontWeight": "bold", "color": "black", "anchor": "middle", "offset": -3},
      "width": 481, "height": 261,
      "data": {"name": "yel"},
      "transform": [{"fold": ["r", "g", "k", "b"], "as": ["s", "v"]}],
      "layer": [
        {
          "mark": {"type": "line", "strokeWidth": 2, "clip": true},
          "encoding": {
            "x": {"field": "d", "type": "quantitative", "scale": {"domain": [0, 151.2], "nice": false, "zero": false}, "axis": {"orient": "bottom", "title": null, "values": [0, 30, 61, 92, 122], "labelPadding": 11, "labelExpr": "datum.value == 0 ? 'Jun' : datum.value == 30 ? 'Jul' : datum.value == 61 ? 'Aug' : datum.value == 92 ? 'Sep' : datum.value == 122 ? 'Oct' : ''"}},
            "y": {"field": "v", "type": "quantitative", "scale": {"domain": [-0.6, 30], "nice": false, "zero": false}, "axis": {"orient": "left", "title": "O₃ [ppb]", "values": [0, 10, 20, 30], "labelPadding": 9, "titlePadding": 6, "titleY": 157}},
            "color": {"field": "s", "type": "nominal", "scale": {"domain": ["b", "k", "g", "r"], "range": ["#1a5cf5", "#000000", "#20e020", "#f01010"]}, "legend": null}
          }
        },
        {
          "mark": {"type": "line", "opacity": 0},
          "encoding": {
            "x": {"field": "d", "type": "quantitative", "axis": {"orient": "top", "title": null, "labels": false, "values": [30, 61, 92, 122]}},
            "y": {"field": "v", "type": "quantitative", "axis": {"orient": "right", "title": null, "labels": false, "values": [0, 10, 20, 30]}}
          }
        }
      ],
      "resolve": {"axis": {"x": "independent", "y": "independent"}}
    }
  ]
}
